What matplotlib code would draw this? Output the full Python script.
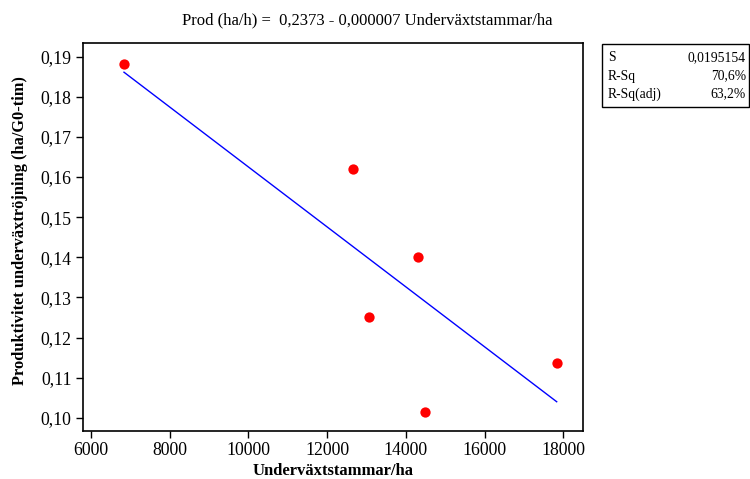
import matplotlib
matplotlib.use("Agg")
import matplotlib.pyplot as plt
import numpy as np
from matplotlib.ticker import FuncFormatter

# Data
stems = [6838, 12649, 14316, 13071, 14493, 17832]
prod = [0.1881, 0.1621, 0.1400, 0.1252, 0.1015, 0.1137]
intercept = 0.2372
slope = -0.00000747
x_ticks = [6000, 8000, 10000, 12000, 14000, 16000, 18000]
y_ticks = [0.10, 0.11, 0.12, 0.13, 0.14, 0.15, 0.16, 0.17, 0.18, 0.19]
stats_labels = ["S", "R-Sq", "R-Sq(adj)"]
stats_values = ["0,0195154", "70,6%", "63,2%"]

plt.rcParams['font.family'] = ['Liberation Serif', 'DejaVu Serif']

fig = plt.figure(figsize=(7.5, 4.79), dpi=100)
W, H = 750, 479
ax = fig.add_axes([82.7 / W, 1 - 431 / H, (583.3 - 82.7) / W, (431 - 43) / H])

xl = np.array([min(stems), max(stems)])
ax.plot(xl, intercept + slope * xl, color='#0000ff', lw=1.0, zorder=2)
ax.scatter(stems, prod, s=55, color='#ff0000', zorder=3, linewidths=0)

ax.set_xlim(5789, 18508)
ax.set_ylim(0.0967, 0.1934)
ax.set_xticks(x_ticks)
ax.set_yticks(y_ticks)
ax.yaxis.set_major_formatter(FuncFormatter(lambda v, p: f"{v:.2f}".replace('.', ',')))
ax.tick_params(direction='out', length=5, width=1, labelsize=12.8, colors='black', pad=3)
for s in ax.spines.values():
    s.set_linewidth(1.2)

ax.set_xlabel("Underväxtstammar/ha", fontsize=12, fontweight='bold', labelpad=3)
fig.text(20 / W, 1 - 231 / H, "Produktivitet underväxtröjning (ha/G0-tim)", rotation=90,
         ha='center', va='center', fontsize=11.8, fontweight='bold')

fig.text(367 / W, 1 - 20 / H, "Prod (ha/h) =  0,2373 - 0,000007 Underväxtstammar/ha",
         ha='center', va='center', fontsize=12)

# stats box
box = plt.Rectangle((602.3 / W, 1 - 106.7 / H), (749.3 - 602.3) / W, (106.7 - 44) / H,
                    transform=fig.transFigure, fill=False, edgecolor='black', lw=1.0)
fig.add_artist(box)
rows_y = [57.3, 76, 93.8]
for lab, val, yy in zip(stats_labels, stats_values, rows_y):
    fig.text(608 / W, 1 - yy / H, lab, ha='left', va='center', fontsize=9.8)
    fig.text(746 / W, 1 - yy / H, val, ha='right', va='center', fontsize=9.8)

fig.savefig("out.png", dpi=100)
